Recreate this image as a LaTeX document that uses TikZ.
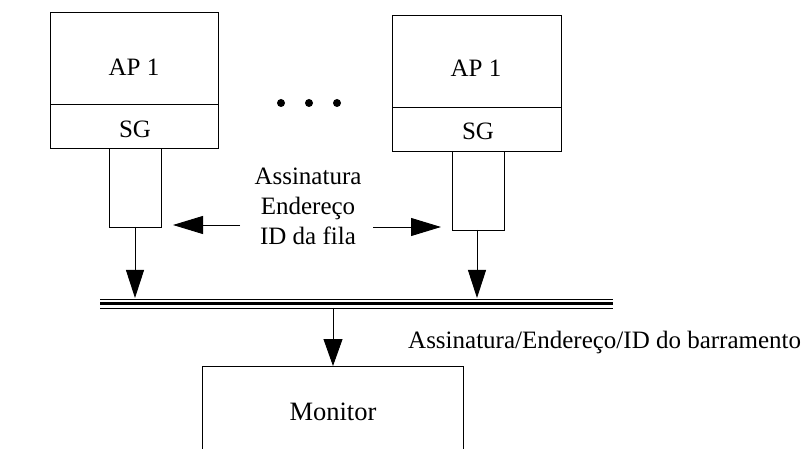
\documentclass[tikz,border=0pt]{standalone}
\usepackage{fontspec}
\setmainfont{Liberation Serif}
\usetikzlibrary{arrows.meta,calc}
\begin{document}
\begin{tikzpicture}[x=1pt,y=-1pt,
  box/.style={draw, line width=0.9pt, inner sep=0pt, outer sep=0pt},
  lbl/.style={inner sep=0pt, anchor=base, font=\fontsize{25}{30}\selectfont},
  conn/.style={line width=0.9pt, -{Triangle[length=28pt,width=18pt]}},
  dot/.style={circle, fill=black, minimum size=8pt, inner sep=0pt}]
\useasboundingbox (0,0) rectangle (801,449);
\clip (0,0) rectangle (801,449);
% left unit
\node[box, minimum width=168pt, minimum height=92pt] (apL) at (134,58) {};
\node[box, minimum width=168pt, minimum height=44pt] (sgL) at (134,126) {};
\node[box, minimum width=52pt, minimum height=79pt] (qL) at (135,187.5) {};
\node[lbl] (apLt) at (134,76) {AP 1};
\node[lbl] (sgLt) at (135,138) {SG};
% right unit
\node[box, minimum width=169pt, minimum height=92pt] (apR) at (476.5,61) {};
\node[box, minimum width=169pt, minimum height=44pt] (sgR) at (476.5,129) {};
\node[box, minimum width=52pt, minimum height=79pt] (qR) at (478,190.5) {};
\node[lbl] (apRt) at (476,77) {AP 1};
\node[lbl] (sgRt) at (478,140) {SG};
% dots
\node[dot] (d1) at (281,103) {};
\node[dot] (d2) at (309,103) {};
\node[dot] (d3) at (337,103) {};
% middle label
\node[lbl, align=center] (mid) at (308,245) {Assinatura\\Endereço\\ID da fila};
\coordinate (aL) at (240,225);
\coordinate (aR) at (373,227);
\draw[conn, -{Triangle[length=30pt,width=18pt]}, shorten >=12pt] (aL) -- (qL.east |- aL);
\draw[conn, -{Triangle[length=30pt,width=18pt]}, shorten >=11pt] (aR) -- (qR.west |- aR);
% bus
\coordinate (busW) at (100,303.5);
\coordinate (busE) at (613,303.5);
\draw[line width=0.9pt] ($(busW)+(0,-4.5)$) -- ($(busE)+(0,-4.5)$);
\draw[line width=3.5pt] (busW) -- (busE);
\draw[line width=0.9pt] ($(busW)+(0,4.5)$) -- ($(busE)+(0,4.5)$);
\coordinate (tL) at (135,298);
\coordinate (tR) at (477,298);
\draw[conn] (qL.south) -- (tL);
\draw[conn] (qR.south -| tR) -- (tR);
% monitor
\node[box, minimum width=261pt, minimum height=100pt] (mon) at (332.5,416) {};
\node[lbl, font=\fontsize{26.5}{30}\selectfont] (mont) at (333,420) {Monitor};
\coordinate (bm) at (333,308);
\draw[conn, -{Triangle[length=27pt,width=19pt]}] (bm) -- (mon.north -| bm);
\node[lbl, anchor=base west] (busl) at (408,348) {Assinatura/Endereço/ID do barramento};
\end{tikzpicture}
\end{document}
